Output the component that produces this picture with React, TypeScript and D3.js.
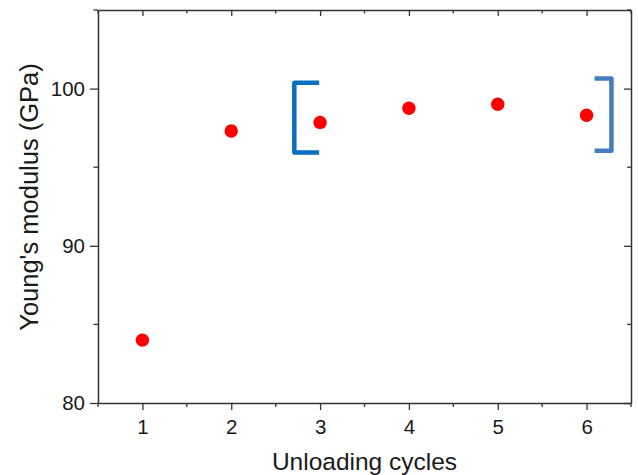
import React, { useEffect, useRef } from "react";
import * as d3 from "d3";

const cycles = [1, 2, 3, 4, 5, 6];
const modulus = [84.0, 97.3, 97.85, 98.75, 99.0, 98.3];
const xTickValues = [1, 2, 3, 4, 5, 6];
const xMinorTicks = [0.5, 1.5, 2.5, 3.5, 4.5, 5.5, 6.5];
const yTickValues = [80, 90, 100];
const yMinorTicks = [85, 95, 105];
const bracketStemX = [2.71, 6.28];
const bracketArmX = [2.99, 6.09];
const bracketTopY = [100.38, 100.64];
const bracketBottomY = [95.93, 96.05];
const bracketColors = ["#0a6fc2", "#437dc0"];
const xTitle = "Unloading cycles";
const yTitle = "Young's modulus (GPa)";

const W = 638;
const H = 475;
const L = 98, R = 631, T = 10, B = 403;
const FONT = "'Liberation Sans', Arial, sans-serif";

export default function App() {
  const ref = useRef<SVGSVGElement | null>(null);

  useEffect(() => {
    const svg = d3.select(ref.current);
    svg.selectAll("*").remove();
    const x = d3.scaleLinear().domain([0.5, 6.5]).range([L, R]);
    const y = d3.scaleLinear().domain([80, 105]).range([B, T]);
    const axisColor = "#333";

    const style = (g: any) => {
      g.selectAll("path").attr("stroke", axisColor).attr("stroke-width", 1.5);
      g.selectAll("line").attr("stroke", axisColor).attr("stroke-width", 1.3);
      g.selectAll("text").attr("font-family", FONT).attr("font-size", 20.5).attr("fill", "#1a1a1a");
    };

    // bottom axis
    const gb = svg.append("g").attr("transform", `translate(0,${B})`)
      .call(d3.axisBottom(x).tickValues(xTickValues).tickSize(7).tickSizeOuter(0).tickPadding(9).tickFormat(d3.format("d")));
    gb.call(style);
    gb.append("g").selectAll("line").data(xMinorTicks).join("line")
      .attr("x1", (d) => x(d)).attr("x2", (d) => x(d)).attr("y1", 0).attr("y2", 4)
      .attr("stroke", axisColor).attr("stroke-width", 1.3);

    // top axis (mirror, ticks inward)
    const gt = svg.append("g").attr("transform", `translate(0,${T})`)
      .call(d3.axisBottom(x).tickValues(xTickValues).tickSize(6).tickSizeOuter(0).tickFormat(() => ""));
    gt.call(style);
    gt.append("g").selectAll("line").data(xMinorTicks).join("line")
      .attr("x1", (d) => x(d)).attr("x2", (d) => x(d)).attr("y1", 0).attr("y2", 3.5)
      .attr("stroke", axisColor).attr("stroke-width", 1.3);

    // left axis
    const gl = svg.append("g").attr("transform", `translate(${L},0)`)
      .call(d3.axisLeft(y).tickValues(yTickValues).tickSize(8).tickSizeOuter(0).tickPadding(5).tickFormat(d3.format("d")));
    gl.call(style);
    gl.append("g").selectAll("line").data(yMinorTicks).join("line")
      .attr("y1", (d) => y(d)).attr("y2", (d) => y(d)).attr("x1", 0).attr("x2", -4.5)
      .attr("stroke", axisColor).attr("stroke-width", 1.3);

    // right axis (mirror, ticks inward)
    const gr = svg.append("g").attr("transform", `translate(${R},0)`)
      .call(d3.axisLeft(y).tickValues(yTickValues).tickSize(7).tickSizeOuter(0).tickFormat(() => ""));
    gr.call(style);
    gr.append("g").selectAll("line").data(yMinorTicks).join("line")
      .attr("y1", (d) => y(d)).attr("y2", (d) => y(d)).attr("x1", 0).attr("x2", -4)
      .attr("stroke", axisColor).attr("stroke-width", 1.3);

    // brackets
    const brackets = bracketStemX.map((sx, i) => ({
      sx, ax: bracketArmX[i], top: bracketTopY[i], bot: bracketBottomY[i], color: bracketColors[i],
    }));
    const line = d3.line<[number, number]>().x((d) => x(d[0])).y((d) => y(d[1]));
    svg.append("g").selectAll("path").data(brackets).join("path")
      .attr("d", (b) => line([[b.ax, b.top], [b.sx, b.top], [b.sx, b.bot], [b.ax, b.bot]]))
      .attr("fill", "none").attr("stroke", (b) => b.color).attr("stroke-width", 4.5)
      .attr("stroke-linejoin", "round").attr("stroke-linecap", "butt");

    // points
    svg.append("g").selectAll("circle").data(cycles.map((c, i) => [c, modulus[i]]))
      .join("circle")
      .attr("cx", (d) => x(d[0])).attr("cy", (d) => y(d[1])).attr("r", 6.7).attr("fill", "#ff0000");

    // titles
    svg.append("text").attr("x", (L + R) / 2).attr("y", 470).attr("text-anchor", "middle")
      .attr("font-family", FONT).attr("font-size", 24.5).attr("fill", "#1a1a1a").text(xTitle);
    svg.append("text").attr("transform", `translate(38,197) rotate(-90)`).attr("text-anchor", "middle")
      .attr("font-family", FONT).attr("font-size", 25.5).attr("fill", "#1a1a1a").text(yTitle);
  }, []);

  return (
    <div style={{ position: "absolute", left: 0, top: 0, width: W, height: H, background: "#fff" }}>
      <svg ref={ref} width={W} height={H} style={{ display: "block" }} />
    </div>
  );
}
